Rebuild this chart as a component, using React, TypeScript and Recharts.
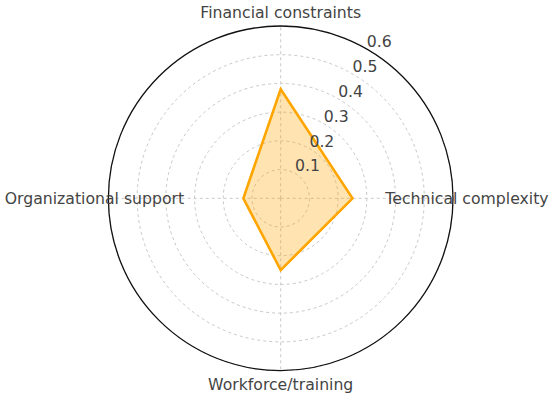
import { RadarChart, Radar, PolarGrid, PolarAngleAxis, PolarRadiusAxis } from 'recharts';

const categories: string[] = [
  'Financial constraints',
  'Technical complexity',
  'Workforce/training',
  'Organizational support',
];
const scores: number[] = [0.38, 0.25, 0.25, 0.13];
const radiusTicks: number[] = [0, 0.1, 0.2, 0.3, 0.4, 0.5, 0.6];

const data = categories.map((axis, i) => ({ axis, score: scores[i] }));

const FONT = '"DejaVu Sans", sans-serif';
const OUTER = 172.3;

const AngleTick = (props: any) => {
  const { x, y, payload } = props;
  return (
    <text x={x} y={y} textAnchor="middle" dominantBaseline="central" fontSize={15.7} fill="#444" fontFamily={FONT}>
      {payload.value}
    </text>
  );
};

const RadiusTick = (props: any) => {
  const { x, y, payload } = props;
  if (payload.value === 0) return null;
  return (
    <text x={x} y={y - 2} textAnchor="start" fontSize={15.7} fill="#444" fontFamily={FONT}>
      {Number(payload.value).toFixed(1)}
    </text>
  );
};

export default function App() {
  return (
    <div style={{ position: 'absolute', left: 0, top: 0, background: '#fff' }}>
      <RadarChart
        width={550}
        height={396}
        data={data}
        cx={280.7}
        cy={198.3}
        outerRadius={OUTER}
        startAngle={90}
        endAngle={-270}
      >
        <PolarGrid gridType="circle" stroke="#c8c8c8" strokeDasharray="3 3" />
        <PolarGrid gridType="circle" polarRadius={[OUTER]} radialLines={false} stroke="#111" strokeWidth={1.3} />
        <PolarAngleAxis dataKey="axis" tick={AngleTick} tickLine={false} axisLine={false} tickSize={14} />
        <PolarRadiusAxis
          type="number"
          angle={60}
          domain={[0, 0.6]}
          allowDecimals
          allowDataOverflow
          ticks={radiusTicks as any}
          tickCount={7}
          axisLine={false}
          tickLine={false}
          tick={RadiusTick}
        />
        <Radar
          dataKey="score"
          stroke="#FFA500"
          strokeWidth={2.6}
          fill="#FFA500"
          fillOpacity={0.3}
          isAnimationActive={false}
        />
      </RadarChart>
    </div>
  );
}
